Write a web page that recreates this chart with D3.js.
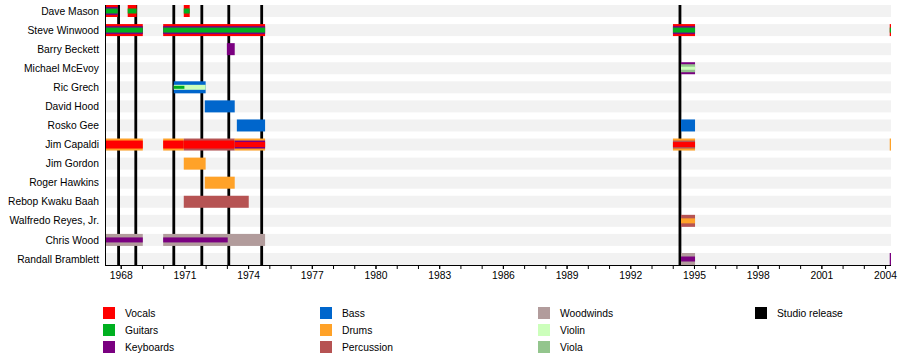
<!DOCTYPE html>
<html>
<head>
<meta charset="utf-8">
<script src="https://cdn.jsdelivr.net/npm/d3@7"></script>
<style>
  html, body { margin: 0; padding: 0; background: #fff; }
  svg { display: block; font-family: "Liberation Sans", Arial, sans-serif; }
</style>
</head>
<body>
<svg id="chart" width="900" height="360"></svg>
<script>
// ---------- DATA ----------
const members = ["Dave Mason", "Steve Winwood", "Barry Beckett", "Michael McEvoy", "Ric Grech",
  "David Hood", "Rosko Gee", "Jim Capaldi", "Jim Gordon", "Roger Hawkins", "Rebop Kwaku Baah",
  "Walfredo Reyes, Jr.", "Chris Wood", "Randall Bramblett"];

const instruments = ["Vocals", "Guitars", "Keyboards", "Bass", "Drums", "Percussion",
  "Woodwinds", "Violin", "Viola", "Studio release"];

const instrumentColors = ["#ff0000", "#00b020", "#7a0080", "#0066cc", "#ffa228", "#b65353",
  "#b29c9c", "#ccffbb", "#93c58d", "#000000"];

const timeRange = [1967.26, 2004.28];
const tickYears = [1968, 1971, 1974, 1977, 1980, 1983, 1986, 1989, 1992, 1995, 1998, 2001, 2004];

const studioReleases = [1967.9, 1968.71, 1970.5, 1971.82, 1973.09, 1974.64, 1994.34];

// [member, instrument, start, end, rank]  rank: 0 = main, 1 = second, 2 = third, 3 = fourth
const periods = [
  ["Dave Mason", "Vocals", 1967.26, 1967.86, 0],
  ["Dave Mason", "Keyboards", 1967.26, 1967.86, 1],
  ["Dave Mason", "Guitars", 1967.26, 1967.86, 2],
  ["Dave Mason", "Vocals", 1968.33, 1968.75, 0],
  ["Dave Mason", "Guitars", 1968.33, 1968.75, 2],
  ["Dave Mason", "Vocals", 1970.97, 1971.25, 0],
  ["Dave Mason", "Guitars", 1970.97, 1971.25, 2],

  ["Steve Winwood", "Vocals", 1967.26, 1969.04, 0],
  ["Steve Winwood", "Keyboards", 1967.26, 1969.04, 1],
  ["Steve Winwood", "Guitars", 1967.26, 1969.04, 2],
  ["Steve Winwood", "Vocals", 1970.0, 1974.8, 0],
  ["Steve Winwood", "Keyboards", 1970.0, 1974.8, 1],
  ["Steve Winwood", "Guitars", 1970.0, 1974.8, 2],
  ["Steve Winwood", "Vocals", 1994.01, 1995.05, 0],
  ["Steve Winwood", "Keyboards", 1994.01, 1995.05, 1],
  ["Steve Winwood", "Guitars", 1994.01, 1995.05, 2],
  ["Steve Winwood", "Vocals", 2004.22, 2004.28, 0],
  ["Steve Winwood", "Guitars", 2004.22, 2004.28, 2],

  ["Barry Beckett", "Keyboards", 1973.0, 1973.37, 0],

  ["Michael McEvoy", "Keyboards", 1994.39, 1995.05, 0],
  ["Michael McEvoy", "Viola", 1994.39, 1995.05, 1],
  ["Michael McEvoy", "Violin", 1994.39, 1995.05, 3],

  ["Ric Grech", "Bass", 1970.5, 1972.0, 0],
  ["Ric Grech", "Violin", 1970.5, 1972.0, 2],
  ["Ric Grech", "Guitars", 1970.5, 1971.0, 3],

  ["David Hood", "Bass", 1971.96, 1973.37, 0],

  ["Rosko Gee", "Bass", 1973.47, 1974.8, 0],
  ["Rosko Gee", "Bass", 1994.39, 1995.05, 0],

  ["Jim Capaldi", "Drums", 1967.26, 1969.04, 0],
  ["Jim Capaldi", "Vocals", 1967.26, 1969.04, 1],
  ["Jim Capaldi", "Drums", 1970.0, 1970.97, 0],
  ["Jim Capaldi", "Vocals", 1970.0, 1970.97, 1],
  ["Jim Capaldi", "Percussion", 1970.97, 1973.37, 0],
  ["Jim Capaldi", "Vocals", 1970.97, 1973.37, 1],
  ["Jim Capaldi", "Drums", 1973.37, 1974.8, 0],
  ["Jim Capaldi", "Keyboards", 1973.37, 1974.8, 1],
  ["Jim Capaldi", "Vocals", 1973.37, 1974.8, 2],
  ["Jim Capaldi", "Drums", 1994.01, 1995.05, 0],
  ["Jim Capaldi", "Percussion", 1994.01, 1995.05, 1],
  ["Jim Capaldi", "Vocals", 1994.01, 1995.05, 2],
  ["Jim Capaldi", "Drums", 2004.22, 2004.28, 0],

  ["Jim Gordon", "Drums", 1970.97, 1972.0, 0],
  ["Roger Hawkins", "Drums", 1971.96, 1973.37, 0],
  ["Rebop Kwaku Baah", "Percussion", 1970.97, 1974.03, 0],

  ["Walfredo Reyes, Jr.", "Percussion", 1994.39, 1995.05, 0],
  ["Walfredo Reyes, Jr.", "Drums", 1994.39, 1995.05, 2],

  ["Chris Wood", "Woodwinds", 1967.26, 1969.04, 0],
  ["Chris Wood", "Keyboards", 1967.26, 1969.04, 2],
  ["Chris Wood", "Woodwinds", 1970.0, 1974.8, 0],
  ["Chris Wood", "Keyboards", 1970.0, 1973.04, 2],

  ["Randall Bramblett", "Woodwinds", 1994.39, 1995.05, 0],
  ["Randall Bramblett", "Keyboards", 1994.39, 1995.05, 2],
  ["Randall Bramblett", "Keyboards", 2004.22, 2004.28, 0]
];

const legendColumns = [
  ["Vocals", "Guitars", "Keyboards"],
  ["Bass", "Drums", "Percussion"],
  ["Woodwinds", "Violin", "Viola"],
  ["Studio release"]
];

// ---------- DRAW ----------
const svg = d3.select("#chart");
const color = d3.scaleOrdinal().domain(instruments).range(instrumentColors);

const x = d3.scaleLinear().domain(timeRange).range([105, 891]);
const y = d3.scalePoint().domain(members).range([11, 259]);
const rankHeight = [12, 8, 5, 3];

const plotTop = 5, plotBottom = 265;

// background stripes
svg.append("g").selectAll("rect").data(members).join("rect")
  .attr("x", x(timeRange[0]))
  .attr("width", x(timeRange[1]) - x(timeRange[0]))
  .attr("y", d => y(d) - 6)
  .attr("height", 12)
  .attr("fill", "#f2f2f2");

// studio release lines
svg.append("g").selectAll("rect").data(studioReleases).join("rect")
  .attr("x", d => x(d) - 1.4)
  .attr("width", 2.8)
  .attr("y", plotTop)
  .attr("height", plotBottom - plotTop)
  .attr("fill", color("Studio release"));

// member bars
svg.append("g").selectAll("rect").data(periods).join("rect")
  .attr("x", d => x(d[2]))
  .attr("width", d => Math.max(1, x(d[3]) - x(d[2])))
  .attr("y", d => y(d[0]) - rankHeight[d[4]] / 2)
  .attr("height", d => rankHeight[d[4]])
  .attr("fill", d => color(d[1]));

// row labels
svg.append("g").selectAll("text").data(members).join("text")
  .attr("x", 99)
  .attr("y", d => y(d))
  .attr("dy", "0.35em")
  .attr("text-anchor", "end")
  .attr("font-size", "10.3px")
  .attr("fill", "#000")
  .text(d => d);

// left axis line
svg.append("line")
  .attr("x1", 105.5).attr("x2", 105.5)
  .attr("y1", plotTop).attr("y2", plotBottom)
  .attr("stroke", "#000").attr("stroke-width", 1);

// x axis: minor ticks every year
const minorYears = d3.range(1968, 2005);
const axisG = svg.append("g").attr("transform", `translate(0,${plotBottom})`);
axisG.call(d3.axisBottom(x).tickValues(minorYears).tickSize(4).tickFormat(""));
axisG.append("g").call(d3.axisBottom(x).tickValues(tickYears).tickSize(4).tickFormat(d3.format("d")));
axisG.selectAll("path.domain").attr("stroke", "#000").attr("d", `M${x(timeRange[0])},0.5H${x(timeRange[1])}`);
axisG.selectAll("text").attr("font-size", "10.3px").attr("font-family", "Liberation Sans, Arial, sans-serif")
  .attr("fill", "#000").attr("dy", "0.5em").attr("y", 9);

// legend
const legendX = [103, 320, 538, 755];
const legendY = [313, 330, 347];
legendColumns.forEach((col, ci) => {
  const g = svg.append("g");
  g.selectAll("rect").data(col).join("rect")
    .attr("x", legendX[ci])
    .attr("y", (d, i) => legendY[i] - 6)
    .attr("width", 12).attr("height", 12)
    .attr("fill", d => color(d));
  g.selectAll("text").data(col).join("text")
    .attr("x", legendX[ci] + 22)
    .attr("y", (d, i) => legendY[i])
    .attr("dy", "0.35em")
    .attr("font-size", "10.3px")
    .attr("fill", "#000")
    .text(d => d);
});
</script>
</body>
</html>
